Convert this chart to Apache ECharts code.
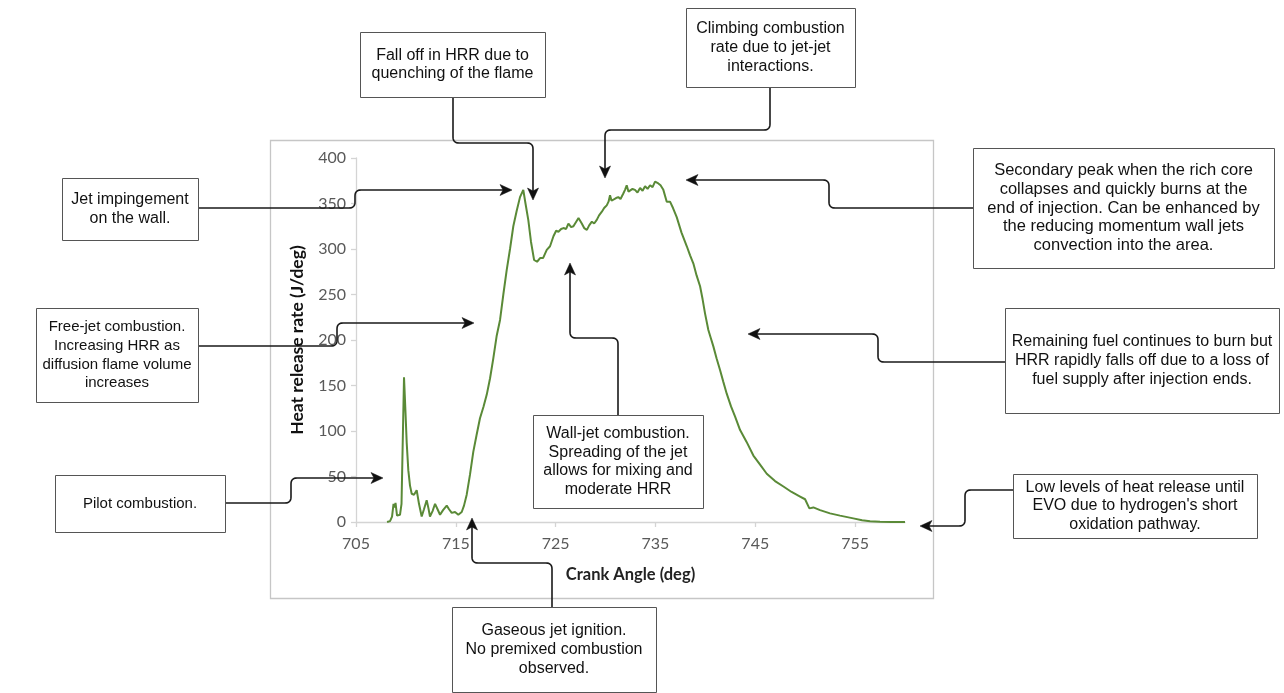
<!DOCTYPE html>
<html>
<head>
<meta charset="utf-8">
<script src="https://cdn.jsdelivr.net/npm/echarts@6/dist/echarts.min.js"></script>
<style>html,body{margin:0;padding:0;background:#fff}#c{width:1284px;height:693px}</style>
</head>
<body>
<div id="c"></div>
<script>
// ---- data ----
var crankAngle = [708.11,708.41,708.61,708.76,708.86,708.96,709.11,709.41,709.56,709.81,709.96,710.08,710.24,710.41,710.58,710.81,711.08,711.31,711.58,711.81,712.08,712.26,712.41,712.67,712.92,713.17,713.42,713.72,714.09,714.32,714.59,714.92,715.25,715.59,715.82,716.09,716.42,716.75,717.07,717.42,717.78,718.10,718.43,718.76,719.10,719.43,719.76,720.10,720.43,720.76,721.10,721.43,721.76,721.98,722.26,722.53,722.84,723.14,723.44,723.74,724.11,724.44,724.78,725.05,725.28,725.55,725.78,726.05,726.28,726.55,726.78,727.06,727.29,727.62,727.86,728.13,728.36,728.63,728.86,729.12,729.35,729.63,729.86,730.12,730.30,730.45,730.60,730.78,731.05,731.28,731.50,731.78,731.95,732.12,732.30,732.45,732.70,732.95,733.20,733.46,733.71,733.96,734.21,734.46,734.71,734.96,735.13,735.29,735.51,735.79,736.13,736.46,736.76,737.13,737.61,738.14,738.47,738.80,739.12,739.47,739.72,739.97,740.30,740.52,740.80,741.12,741.47,741.80,742.14,742.57,742.97,743.48,744.13,744.81,745.48,746.15,746.98,747.82,748.64,749.49,749.99,750.19,750.42,750.82,751.49,752.49,753.49,754.82,755.70,756.50,757.50,758.71,760.0];
var hrr = [0,1,6,20,16,21,7,8,20,159,120,87,57,40,31,30,35,20,6,14,24,15,6,12,20,14,8,13,18,14,10,11,8,11,18,30,52,77,95,114,127,140,158,180,205,222,250,277,300,325,342,357,365,350,332,308,288,286,290,290,299,303,314,320,319,322,323,322,328,324,325,330,334,328,323,321,326,330,328,332,337,341,345,348,352,359,353,352,356,357,355,361,365,370,363,361,366,365,362,367,364,369,366,370,368,374,376,372,370,365,352,352,345,335,318,303,293,284,271,259,245,229,211,203,193,180,167,154,141,127,116,101,88,73,63,53,45,39,33,28,25,24,15,16,13,9.5,7,4,2,0.8,0.3,0.1,0];
var xTickValues = [705,715,725,735,745,755];
var xTitle = 'Crank Angle (deg)';
var yTitle = 'Heat release rate (J/deg)';

// ---- annotation layout (callout boxes and connectors) ----
var notes = [
  {box:[360,32,185,65], fs:16, lines:['Fall off in HRR due to','quenching of the flame'], path:[[453,97],[453,143],[533,143],[533,200]]},
  {box:[686,8,169,79], fs:16, lines:['Climbing combustion','rate due to jet-jet','interactions.'], path:[[770,87],[770,130],[605,130],[605,178]]},
  {box:[62,178,136,62], fs:16, lines:['Jet impingement','on the wall.'], path:[[198,208],[355,208],[355,190],[512,190]]},
  {box:[973,148,301,120], fs:16.5, lines:['Secondary peak when the rich core','collapses and quickly burns at the','end of injection. Can be enhanced by','the reducing momentum wall jets','convection into the area.'], path:[[973,208],[829,208],[829,180],[686,180]]},
  {box:[36,308,162,94], fs:15, lines:['Free-jet combustion.','Increasing HRR as','diffusion flame volume','increases'], path:[[198,346],[337,346],[337,323],[474,323]]},
  {box:[1005,308,274,105], fs:16, lines:['Remaining fuel continues to burn but','HRR rapidly falls off due to a loss of','fuel supply after injection ends.'], path:[[1005,362],[878,362],[878,334],[748,334]]},
  {box:[533,415,170,93], fs:16, lines:['Wall-jet combustion.','Spreading of the jet','allows for mixing and','moderate HRR'], path:[[618,415],[618,338],[570,338],[570,263]]},
  {box:[55,475,170,57], fs:15, lines:['Pilot combustion.'], path:[[225,503],[291,503],[291,478],[383,478]]},
  {box:[1013,474,244,64], fs:16, lines:['Low levels of heat release until','EVO due to hydrogen\'s short','oxidation pathway.'], path:[[1013,490],[965,490],[965,526],[920,526]]},
  {box:[452,607,204,85], fs:16, lines:['Gaseous jet ignition.','No premixed combustion','observed.'], path:[[552,607],[552,563],[472,563],[472,518]]}
];

function roundedPoints(pts, r){
  var out = [pts[0].slice()];
  for (var i = 1; i < pts.length - 1; i++) {
    var p0 = pts[i-1], p1 = pts[i], p2 = pts[i+1];
    var d1x = p1[0]-p0[0], d1y = p1[1]-p0[1], l1 = Math.hypot(d1x,d1y);
    var d2x = p2[0]-p1[0], d2y = p2[1]-p1[1], l2 = Math.hypot(d2x,d2y);
    var rr = Math.min(r, l1/2, l2/2);
    var ax = p1[0] - d1x/l1*rr, ay = p1[1] - d1y/l1*rr;
    var bx = p1[0] + d2x/l2*rr, by = p1[1] + d2y/l2*rr;
    for (var k = 0; k <= 8; k++) {
      var t = k/8, u = 1-t;
      out.push([u*u*ax + 2*u*t*p1[0] + t*t*bx, u*u*ay + 2*u*t*p1[1] + t*t*by]);
    }
  }
  var n = pts.length, last = pts[n-1], prev = pts[n-2];
  var dx = last[0]-prev[0], dy = last[1]-prev[1], L = Math.hypot(dx,dy);
  out.push([last[0]-dx/L*8, last[1]-dy/L*8]);
  return out;
}
function arrowHead(pts){
  var n = pts.length, last = pts[n-1], prev = pts[n-2];
  var dx = last[0]-prev[0], dy = last[1]-prev[1], L = Math.hypot(dx,dy);
  var ux = dx/L, uy = dy/L, px = -uy, py = ux;
  var len = 12, hw = 5.5;
  var bx = last[0]-ux*len, by = last[1]-uy*len;
  return [[last[0],last[1]],[bx+px*hw,by+py*hw],[bx+ux*3,by+uy*3],[bx-px*hw,by-py*hw]];
}

var graphics = [{
  type:'rect', z:-10, silent:true,
  shape:{x:270.5,y:140.5,width:663,height:458},
  style:{fill:null, stroke:'#c6c6c6', lineWidth:1.3}
}];
notes.forEach(function(n){
  graphics.push({type:'polyline', z:50, silent:true, shape:{points:roundedPoints(n.path,6)}, style:{fill:null, stroke:'#1a1a1a', lineWidth:1.6}});
  graphics.push({type:'polygon', z:51, silent:true, shape:{points:arrowHead(n.path)}, style:{fill:'#111', stroke:'#111', lineWidth:0.5}});
  var b = n.box;
  graphics.push({type:'rect', z:60, silent:true, shape:{x:b[0]+0.5,y:b[1]+0.5,width:b[2],height:b[3]}, style:{fill:'#fff', stroke:'#555', lineWidth:1}});
  var lh = 18.8, total = n.lines.length*lh;
  var y0 = b[1] + b[3]/2 - total/2 + lh/2;
  n.lines.forEach(function(t,i){
    graphics.push({type:'text', z:61, silent:true, x:b[0]+b[2]/2, y:y0+i*lh,
      style:{text:t, textAlign:'center', textVerticalAlign:'middle', fill:'#111', font:n.fs + 'px "Liberation Sans", Arial, sans-serif'}});
  });
});

var seriesData = crankAngle.map(function(x,i){ return [x, hrr[i]]; });

var chart = echarts.init(document.getElementById('c'), null, {renderer:'canvas'});
chart.setOption({
  animation:false,
  backgroundColor:'#fff',
  grid:{left:356, top:158, width:549, height:364, containLabel:false},
  xAxis:{
    type:'value', min:705, max:760, interval:5,
    name:xTitle, nameLocation:'middle', nameGap:44,
    nameTextStyle:{fontFamily:'Lato', fontWeight:'bold', fontSize:16.5, color:'#222'},
    axisLine:{show:true, lineStyle:{color:'#d4d4d4', width:1.3}},
    axisTick:{show:true, length:5, customValues:xTickValues, lineStyle:{color:'#d4d4d4', width:1.3}},
    axisLabel:{customValues:xTickValues, fontFamily:'Lato', fontSize:16, color:'#595959', margin:14},
    splitLine:{show:false}
  },
  yAxis:{
    type:'value', min:0, max:400, interval:50,
    name:yTitle, nameLocation:'middle', nameGap:50, nameRotate:90,
    nameTextStyle:{fontFamily:'Lato', fontWeight:'bold', fontSize:17.5, color:'#111'},
    axisLine:{show:true, lineStyle:{color:'#d4d4d4', width:1.3}},
    axisTick:{show:true, length:5, lineStyle:{color:'#d4d4d4', width:1.3}},
    axisLabel:{fontFamily:'Lato', fontSize:16, color:'#595959', margin:10},
    splitLine:{show:false}
  },
  series:[{
    type:'line', data:seriesData, showSymbol:false, smooth:false,
    lineStyle:{color:'#5a8a37', width:2}, z:5
  }],
  graphic:graphics
});
</script>
</body>
</html>
